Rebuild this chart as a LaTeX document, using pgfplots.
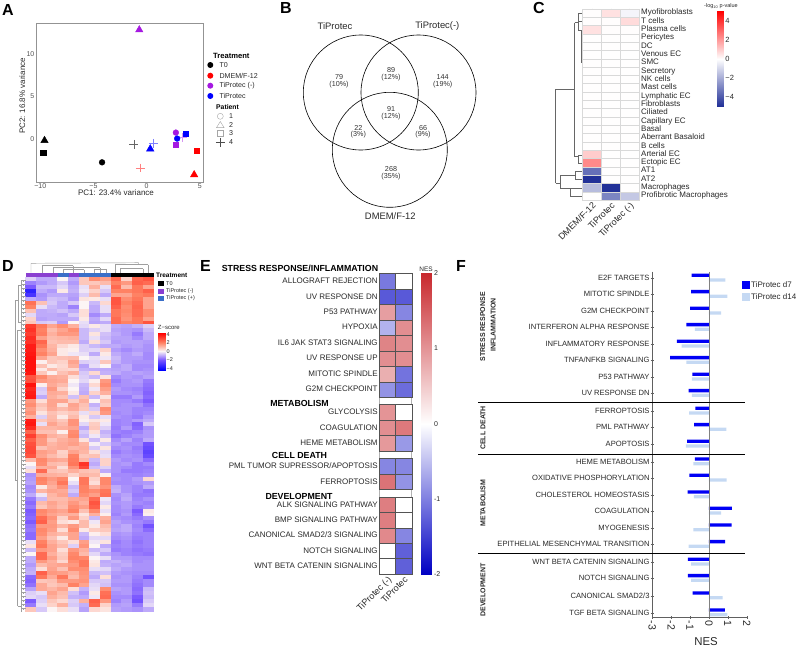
\documentclass[border=0pt]{standalone}
\usepackage{fontspec}
\setmainfont{Liberation Sans}
\usepackage{pgfplots}
\usepackage{pgfplotstable}
\pgfplotsset{compat=1.18}

\newcommand{\fs}[1]{\fontsize{#1}{#1}\selectfont}

\definecolor{pur}{RGB}{165,25,225}
\definecolor{annpur}{RGB}{138,63,209}
\definecolor{annblu}{RGB}{58,111,200}
\definecolor{dkblue}{RGB}{0,0,245}
\definecolor{ltblue}{RGB}{197,217,243}
\definecolor{txt}{RGB}{40,40,40}

\pgfplotsset{
  colormap={hmC}{rgb255(0pt)=(30,45,150); rgb255(5pt)=(255,255,255); rgb255(10pt)=(255,0,0)},
  colormap={hmE}{rgb255(0pt)=(0,0,195); rgb255(2pt)=(255,255,255); rgb255(4pt)=(200,40,45)},
  colormap={hmD}{rgb255(0pt)=(0,0,255); rgb255(24pt)=(125,90,255); rgb255(34pt)=(190,170,250);
    rgb255(44pt)=(252,245,245); rgb255(64pt)=(255,130,100); rgb255(87pt)=(255,0,0)},
  pan/.style={scale only axis, anchor=south west},
  cell/.style={only marks, scatter, scatter src=explicit, mark=square*,
    scatter/use mapped color={draw=#1, fill=mapped color}},
}

% D: heatmap, 85 rows, 12 samples
\pgfplotstableread[header=false]{
-0.5 -1 -1 0 -1 0.8 1.8 1.5 2.5 0.6 2.5 2.8
-1.5 -1.2 -1 -0.6 -1.2 0.8 0.8 1 2.0 1.6 2.6 2.4
-2 -0.8 -0.8 -0.4 -1 -0.3 1.2 -0.3 2.4 1.0 2.2 1.4
-3.5 -1 -1.2 0.2 -0.9 -0.2 0.6 -0.6 2 2 2.2 2.6
-3 -1.3 -1 -1 -1.1 -0.5 1 -1 1.4 1.4 2 2.2
-1 -1.2 -0.7 -0.8 -1.2 0.3 0.2 -0.3 2.8 1.8 2.2 1.4
2.3 0.9 -0.6 -1 -0.6 0 -0.8 0.5 2.8 2 2.4 1.4
2 -0.3 -0.8 -1 -1.5 0 -1 -0.3 2.6 1.8 2.5 1.4
0.9 -1 -0.9 -0.7 -1 0.4 -1 -0.3 2.2 1.9 2.4 1.8
-0.4 -1 -1 -1.1 -0.6 0.4 -1.4 -1 2.2 1.8 2.4 1.8
0.6 -1.1 -1 -1 -1 0.2 -1 -0.4 2.4 1.7 2.2 1.4
0.8 -0.6 -0.5 -1.2 0 -0.3 -1.1 -1 2.4 2 2.2 2.8
3.2 2.2 1.4 1.8 1.2 -0.4 0.2 -0.3 -1 -1.1 -0.9 -0.5
3.4 2 1 1.4 1.8 -0.8 -0.5 -0.3 -1.1 -1.2 -1.3 -0.8
3.2 2.1 1.2 1.6 1.6 -0.8 0.3 -0.7 -1 -1.2 -1.6 -1
3.5 1.5 1 1.1 1.2 -0.8 -0.3 -0.8 -1.1 -1.1 -1.4 -1
3.4 2.5 0.9 1 1 -1 0.4 -0.6 -1.2 -1.1 -1.1 -1.2
3.8 2.2 1.1 0.5 0.2 -0.5 -0.8 -1 -1 -1.2 -1.1 -1.3
3.8 1.8 1.2 0.2 0.1 -0.5 -0.4 0.6 -1.2 -1.4 -1.2 -1.3
3.9 2 1.4 0.2 -0.2 -0.3 -1 0.2 -1 -1.2 -1 -1.4
4 1.4 0.8 0.9 1 0 -0.3 -0.2 -0.8 -1.2 -1.2 -1.4
4 0.1 0.8 0.6 1.4 -0.5 -0.4 0.8 -0.9 -1.2 -1.3 -1.3
4 0.9 0.2 0.5 1.2 -1.1 -0.3 0 -1.2 -1 -1.4 -1.4
4 0.2 1 0.6 0.5 -0.9 -1 -1 -1.1 -1 -1.4 -1.3
3.9 0.8 0.1 0.9 1.2 -0.6 0.5 -0.9 -1 -1.2 -1.1 -1.2
2.8 1.9 1.3 1.2 0.4 -0.5 -0.8 0.3 -1.4 -1.2 -1.3 -1.1
2.9 1.6 1.4 1.3 0 -0.4 0.1 1.6 -1.6 -1.3 -1.2 -1.6
4 0.1 1.3 1 -0.2 -0.8 0.5 1.8 -1.4 -1.3 -1.3 -1.7
3.6 -0.6 1.6 0.6 0 -0.9 -0.2 1.5 -1.2 -1.4 -1.5 -1.8
3.8 -0.5 1.3 1.2 0.2 -1 0.6 1.2 -1.3 -1.3 -1.4 -1.9
3.9 -1 1.2 0.9 -0.7 0.9 -0.8 0.3 -1.6 -1.6 -1.2 -1.8
1.6 0.4 1.4 1.4 0.7 1.2 0 0.9 -1.4 -1.4 -1.6 -2
1.8 0.9 1.4 0.4 1.4 0.9 -0.9 0.7 -1.4 -1.3 -1.3 -1.7
1.5 0.7 1.3 1 1.3 0.8 -0.6 1.8 -1.3 -1.3 -1.5 -1.5
1.7 0.3 0.9 0.6 0.8 -0.3 0.5 1.6 -1.4 -1.3 -1.5 -1.4
1.2 -0.5 1 0.2 1 0.2 -0.6 -0.3 -1.3 -1.4 -1.6 -1.2
3.8 0.8 1.1 0.8 1.7 0.1 0.3 0.2 -1.5 -1.4 -1.2 -1
3.9 -0.3 1.4 1 1.7 -0.4 0.7 -0.2 -1.5 -1.4 -1.9 -0.6
3.5 1.1 1.1 1.2 1.4 -1 0.8 -0.5 -1.6 -1.2 -1.8 -1.3
2.5 0.9 0.9 0.1 1.8 -0.6 0.4 -0.9 -1.5 -1.6 -1.5 -1.2
3.2 1.8 1.2 1 1.9 -0.8 -0.2 -0.7 -1.7 -1.5 -1.3 -1.2
2.6 1.6 0.8 1.2 1.4 0.3 -0.8 0.2 -1.4 -1.1 -1.5 -1
2.9 1.6 1.1 1.3 1.5 1.1 -0.1 -0.6 -1.2 -1.4 -1.4 -2.2
3 0.9 1.2 1.3 1.1 1.2 -0.6 0.3 -1.4 -1.3 -1.6 -2.4
3 1.5 1.3 0.6 1.4 1.1 0.4 -0.4 -1.6 -1.4 -1.5 -2.6
2.8 1.4 1 0.7 2 0.8 0.9 -0.3 -1.4 -1.3 -1.4 -2.4
1 1.9 1.4 1.3 2.1 1.1 -0.8 0.6 -1.2 -1.4 -1.3 -1.8
0 1.8 1 0.9 2.2 3.4 -1 0.6 -1.3 -1.2 -1.6 -1.4
-0.3 1.2 1.3 0.4 1.7 3 -0.7 -0.5 -1.3 -1.4 -1.6 -1.6
0.4 2.4 0.9 0.8 1.2 0.9 0.8 -1 -1.3 -1.6 -1.6 -1.5
-1.3 1.3 1.2 1.1 0.6 1.1 1 0.1 -1.4 -1.4 -1.5 -1.4
-1.2 2 1.6 1.9 0 2.2 0.6 1.9 -1.3 -1.4 -1.2 0.5
-1.1 1.9 1.4 2.2 -0.3 2.2 0.4 1.9 -1.4 -1.4 -1.3 -1.2
-1.4 0.2 1.2 1.7 -0.8 2 1.2 1.7 -1 -1.3 -1.5 -1
-1.3 1.1 1.4 1.3 -0.6 2 1.8 2.2 -0.9 -1.3 -1.5 -1.7
-1 -0.2 1.1 1.4 -1 1.8 1.5 2.3 -1.3 -1.1 -1.6 -1.6
-1.6 -0.8 1 1 1.3 1.4 2.4 -0.2 -1.4 -1 -1.5 -1.3
-1.8 1 1.4 1.1 1.6 1.2 2.8 -0.4 -1.3 -1.2 -1.4 -1.5
-1.6 0.8 1.3 1 1.8 1.5 2.6 0.2 -1.4 -1.2 -1.6 -1.4
-2 1.9 1.6 1.4 2 0.9 1.9 -0.3 -1.4 -1.3 -2 0.2
-1.9 1.8 1.4 1.2 1.2 0.3 1.2 0.1 -1.5 -1.2 -1.8 0.1
-1.8 2.4 1.7 0.6 1.6 0.6 -0.8 1.2 -1.3 -1.4 -1.6 -1.3
-2 2.6 1.5 0.4 0.2 1 -0.2 1.4 -1.1 -1.3 -1.4 -1.6
-1.7 1.6 1.6 1.1 1.6 1 0.2 1 -1.2 -1 -1.5 -2.2
-1.6 1.9 1.5 0.4 1.8 0.2 0.7 0.8 -1.1 -1 -1.4 -1.8
-1.8 1.8 1.2 1 1.4 -0.8 0.1 0.4 -1.3 -1.2 -1.5 -1.5
-1.8 1.5 0.9 0.2 1.4 -1 -0.4 -0.4 -1.4 -1.3 -1.6 -1.5
-0.3 2 1.2 0.8 0.4 1.5 -0.2 0.3 -1.6 -1.4 -1.7 -1.5
0.3 2.2 1.4 1 -0.5 1.7 0 -1 -1.5 -1.4 -1.6 -1.5
-0.8 1.6 1.4 0.4 1.6 1.2 -0.8 -0.6 -1.6 -1.5 -1.7 -1.6
0 2.4 1.2 0.7 1.9 1 -0.4 -1 -1.3 -1.5 -1.6 -1.7
-1 2.4 1.5 0.8 2 1.9 0 -0.3 -1.2 -1.2 -1.4 -1.4
-1 1.6 1.2 0.5 1.8 2.2 0.2 -1 -0.9 -1.1 -1.4 -1.3
-1.2 1 1.3 1.4 1.6 2.2 0.3 -0.9 -1.1 -1 -1.3 -1.3
-1 0.4 1.4 0.9 1.8 1.8 -0.3 -0.4 -1 -1.2 -1.3 -1.3
-0.9 2.6 1.6 1.5 1.2 1.7 -0.8 -0.7 -1.2 -1.3 -1.4 -1.4
-1.8 2.2 1.3 2.2 1 1.6 -1 0.4 -1.3 -1.2 -1.5 -2.2
-1.9 0.8 0.9 1.6 1.6 1.7 -0.6 -0.6 -1.2 -1.2 -1.6 -1.4
-1.7 1.3 0.8 1 2 1.4 -0.4 -0.7 -1.3 -1.3 -1.7 -1.4
-1.1 1.3 1.1 1.4 0.4 -0.9 -0.3 1.8 -1.1 -1.2 -1.8 -0.8
-0.5 -0.3 1.4 1 -0.7 -1.2 0.2 2.3 -1.3 -1.2 -1.7 -0.7
-0.4 -0.6 1.2 0.9 -0.9 -1 -0.2 2.4 -1.4 -1.4 -2 -0.8
-2 -0.5 0.8 0.5 -0.5 1.2 2.6 1.6 -1.5 -1.2 -2.2 -0.6
-1.6 -0.3 0.6 1.2 -0.6 -0.9 2.4 0.6 -1.2 -1.1 -1.6 -0.4
0.8 -0.6 0 0.4 -0.3 -1.1 0.5 0.3 -1.1 -1.2 -1.3 -1
}\datD

% C: DMEM/F-12, TiProtec, TiProtec (-)
\pgfplotstableread[header=false]{
0.05 0.6 -0.25
0.05 0.05 0.7
0.6 0.05 0.05
0.03 0.03 0.03
0.03 0.03 0.03
0.03 0.03 0.03
0.03 0.03 0.03
0.03 0.03 0.03
0.03 0.03 0.03
0.03 0.03 0.03
0.03 0.03 0.03
0.03 0.03 0.03
0.03 0.03 0.03
0.03 0.03 0.03
0.03 0.03 0.03
0.03 0.03 0.03
0.03 0.03 0.03
1.0 0.03 0.03
2.3 0.03 0.03
-3.4 0.03 0.03
-4.9 0.03 0.03
-1.6 -4.9 0.03
0.03 -2.9 -1.3
}\datC

% E: row centre, TiProtec (-), TiProtec
\pgfplotstableread{
y a b
281 -1.05 0
296.6 -1.3 -1.3
312 0.9 -0.95
327.5 -0.6 1.05
343 1.15 1.05
358.5 1.05 1.05
374 0.75 -1.1
389.4 -0.85 -1.15
412.3 1.0 0
427.7 1.05 1.25
443 0.95 -0.8
466 -0.95 -0.95
481.7 1.3 -0.85
504.7 1.2 0
520 1.2 0
535.4 1.1 -0.95
550.7 0 -1.25
566 0 -1.25
}\datE

% F: row centre, NES d7, NES d14
\pgfplotstableread{
y d7 d14
278 -0.92 0.87
294.3 -0.95 0.98
311 -1.0 0.65
327.3 -1.2 -0.74
344 -1.7 -1.45
360.3 -2.06 -1.2
377 -0.88 -0.9
393.3 -1.08 -0.9
411 -0.72 -1.05
427.3 -0.78 0.92
444 -1.15 -1.22
461.7 -0.74 -0.82
478 -1.04 0.93
494.7 -1.13 -0.8
511 1.22 0.65
527.7 1.2 -0.83
544.3 0.86 -1.07
562 -1.12 -0.95
578.3 -1.12 -0.95
595.7 -0.87 0.72
612.7 0.85 0.97
}\datF

\begin{document}
\begin{tikzpicture}[x=1pt,y=-1pt,font=\fs{8},text=txt]
\path[use as bounding box] (0,0) rectangle (798,648);

% panel letters
\foreach \l/\x/\y in {A/2/10,B/280/8,C/533/8,D/2/266,E/200/266,F/456/266}
  \node[anchor=west,inner sep=0pt,text=black,font=\fs{16}\bfseries] at (\x,\y) {\l};

% ---------- A
\begin{axis}[pan, at={(36pt,-182pt)}, width=167pt, height=159pt,
  xmin=-10.4, xmax=5.3, ymin=-5, ymax=13.6,
  axis line style={gray!85,line width=1pt}, tick style={draw=none},
  xtick={-10,-5,0,5}, xticklabels={−10,−5,0,5},
  ytick={0,5,10},
  every tick label/.append style={font=\fs{7},text=txt!80,inner sep=1.5pt},
  /pgf/number format/assume math mode=true]
  \addplot[only marks,mark=*,mark size=2.9pt,black] coordinates {(-4.19,-2.7)};
  \addplot[only marks,mark=triangle*,mark size=4.3pt,black] coordinates {(-9.6,-0.15)};
  \addplot[only marks,mark=square*,mark size=2.8pt,black] coordinates {(-9.7,-1.56)};
  \addplot[only marks,mark=+,mark size=4.4pt,black!60,line width=.45pt] coordinates {(-1.2,-0.6)};
  \addplot[only marks,mark=triangle*,mark size=4.3pt,red] coordinates {(4.47,-4.15)};
  \addplot[only marks,mark=square*,mark size=2.8pt,red] coordinates {(4.72,-1.33)};
  \addplot[only marks,mark=+,mark size=4.4pt,red!50,line width=.45pt] coordinates {(-0.6,-3.36)};
  \addplot[only marks,mark=triangle*,mark size=4.3pt,pur] coordinates {(-0.69,12.8)};
  \addplot[only marks,mark=*,mark size=2.9pt,pur] coordinates {(2.75,0.78)};
  \addplot[only marks,mark=square*,mark size=2.8pt,pur] coordinates {(2.72,-0.63)};
  \addplot[only marks,mark=+,mark size=4.4pt,pur!45,line width=.45pt] coordinates {(3.34,0.23)};
  \addplot[only marks,mark=*,mark size=2.9pt,blue] coordinates {(2.87,0.08)};
  \addplot[only marks,mark=square*,mark size=2.8pt,blue] coordinates {(3.69,0.67)};
  \addplot[only marks,mark=triangle*,mark size=4.3pt,blue] coordinates {(0.34,-1.13)};
  \addplot[only marks,mark=+,mark size=4.4pt,blue!50,line width=.45pt] coordinates {(0.62,-0.47)};
\end{axis}
\node[rotate=90,font=\fs{8}] at (22.3,96) {PC2: 16.8\% variance};
\node[font=\fs{8}] at (116,193) {PC1: 23.4\% variance};
\node[anchor=west,inner sep=0pt,font=\fs{7.6}\bfseries,text=black] at (213,56) {Treatment};
\foreach \c/\t/\y in {black/T0/65,red/DMEM\slash F-12/75.7,pur/TiProtec (-)/85.7,blue/TiProtec/96}{
  \fill[\c] (210.3,\y) circle (3pt);
  \node[anchor=west,inner sep=0pt,font=\fs{7.1}] at (219.3,\y) {\t};
}
\node[anchor=west,inner sep=0pt,font=\fs{6.8}\bfseries,text=black] at (216,107) {Patient};
\draw[gray!70,line width=.4pt] (220.3,116.3) circle (3pt);
\draw[gray!70,line width=.4pt] (216.5,127.6) -- (224.1,127.6) -- (220.3,121.5) -- cycle;
\draw[gray!70,line width=.4pt] (217.4,130.4) rectangle (223.2,136.2);
\draw[black!70,line width=.4pt] (215.8,142.3) -- (224.8,142.3) (220.3,137.8) -- (220.3,146.8);
\foreach \t/\y in {1/116.3,2/125,3/133.3,4/142.3}
  \node[anchor=west,inner sep=0pt,font=\fs{7.1}] at (229,\y) {\t};

% ---------- B
\draw[black,line width=.6pt] (360.8,92.5) circle (57.5) (418.5,92.5) circle (57.5) (389.8,149.8) circle (57.5);
\node[font=\fs{9.4}] at (335,26) {TiProtec};
\node[font=\fs{9.4}] at (437.3,26) {TiProtec(-)};
\node[font=\fs{9.4}] at (390.3,216) {DMEM/F-12};
\foreach \a/\b/\x/\y in {79/10/339/81,89/12/391/74.3,144/19/442.7/81,91/12/391/113.3,22/3/358.3/131.7,66/9/423/131.7,268/35/391/173.3}
  \node[align=center,inner sep=0pt,font=\fs{7.2},text=black!80] at (\x,\y) {\a\\[-.6pt](\b\%)};

% ---------- C
\begin{axis}[pan, at={(582.3pt,-200pt)}, width=56.7pt, height=191.3pt,
  xmin=-.5, xmax=2.5, ymin=-.5, ymax=22.5, y dir=reverse, clip=false,
  colormap name=hmC, point meta min=-5, point meta max=5,
  axis line style={gray!40},
  xtick={0,1,2}, xticklabels={DMEM/F-12,TiProtec,TiProtec (-)},
  x tick label style={rotate=45,anchor=north east,font=\fs{9},inner sep=1pt},
  x tick style={gray}, major tick length=2.5pt,
  ytick={0,...,22}, y tick style={draw=none}, yticklabel pos=right,
  yticklabels={Myofibroblasts,T cells,Plasma cells,Pericytes,DC,Venous EC,SMC,Secretory,NK cells,Mast cells,Lymphatic EC,Fibroblasts,Ciliated,Capillary EC,Basal,Aberrant Basaloid,B cells,Arterial EC,Ectopic EC,AT1,AT2,Macrophages,Profibrotic Macrophages},
  y tick label style={font=\fs{8},anchor=west,inner sep=1pt,xshift=1pt,text height=5.8pt,text depth=1.6pt}]
  \pgfplotsinvokeforeach{0,1,2}{
    \addplot[cell=gray!30, mark size=4.16pt, mark options={xscale=2.27,line width=.2pt}]
      table[x expr=#1, y expr=\coordindex, meta index=#1] {\datC};
  }
\end{axis}
\begin{scope}[gray!80!black,line width=.5pt]
\draw (555.7,89.3) -- (574.7,89.3) (555.7,89.3) -- (555.7,183.3);
\draw (574.7,22.7) -- (574.7,156.7);
\draw (574.7,22.7) -- (578.3,22.7) (578.3,13.3) -- (578.3,30);
\draw (578.3,13.3) -- (582.3,13.3) (578.3,21.7) -- (582.3,21.7) (578.3,30) -- (582.3,30);
\draw (581,30) -- (581,63);
\draw (574.7,156.7) -- (578.3,156.7) (578.3,155) -- (578.3,163) (578.3,155) -- (582.3,155) (578.3,163) -- (582.3,163);
\draw (555.7,183.3) -- (560,183.3) (560,175) -- (560,188.3);
\draw (560,175) -- (575,175) (575,171) -- (575,179.5) (575,171) -- (582.3,171) (575,179.5) -- (582.3,179.5);
\draw (560,188.3) -- (570,188.3) (570,188.3) -- (570,196) (570,188) -- (582.3,188) (570,196) -- (582.3,196);
\end{scope}
% C colour bar
\begin{axis}[pan, at={(717.3pt,-106.7pt)}, width=6.4pt, height=95.7pt,
  xmin=0, xmax=1, ymin=-5, ymax=5, colormap name=hmC, point meta min=-5, point meta max=5,
  view={0}{90}, axis line style={draw=none}, xtick=\empty, ytick={-4,-2,0,2,4},
  yticklabels={−4,−2,0,2,4}, yticklabel pos=right, y tick style={draw=none},
  y tick label style={font=\fs{7.5},inner sep=1.5pt}]
  \addplot[surf,shader=interp,point meta=y,mesh/rows=3] coordinates {(0,-5)(1,-5) (0,0)(1,0) (0,5)(1,5)};
\end{axis}
\node[font=\fs{5.5}] at (721,6) {-log\textsubscript{10} p-value};

% ---------- D
\begin{axis}[pan, at={(25.7pt,-611pt)}, width=128.3pt, height=333pt, hide axis,
  xmin=-.5, xmax=11.5, ymin=-.5, ymax=84.5, y dir=reverse,
  colormap name=hmD, point meta min=-4.4, point meta max=4.3]
  \pgfplotsinvokeforeach{0,...,11}{
    \addplot[cell=mapped color, mark size=2pt, mark options={xscale=2.67,line width=0pt}]
      table[x expr=#1, y expr=\coordindex, meta index=#1] {\datD};
  }
\end{axis}
\fill[annpur] (25.7,272.7) rectangle (57.8,277.4);
\fill[annblu] (57.8,272.7) rectangle (68.5,277.4);
\fill[annpur] (68.5,272.7) rectangle (79.2,277.4);
\fill[annblu] (79.2,272.7) rectangle (111.2,277.4);
\fill[black] (111.2,272.7) rectangle (154,277.4);
\begin{scope}[gray!75,line width=.45pt]
% column tree
\draw (31,272.7) -- (31,263.3) -- (138.3,262.7) -- (138.3,264.7);
\draw (115,264.7) -- (148,264.7) (115,264.7) -- (115,272.7) (148,264.7) -- (148,272.7);
\draw (120,268.5) -- (143,268.5) (120,268.5) -- (120,272.7) (143,268.5) -- (143,272.7);
\draw (42,265.5) -- (73,265.5) (42,265.5) -- (42,272.7) (73,265.5) -- (73,272.7);
\draw (53,267.5) -- (100,267.5) (53,267.5) -- (53,272.7) (100,267.5) -- (100,272.7);
\draw (63,269.5) -- (84,269.5) (63,269.5) -- (63,272.7) (84,269.5) -- (84,272.7);
\draw (94,269) -- (106,269) (94,269) -- (94,272.7) (106,269) -- (106,272.7);
% row tree
\draw (15,300) -- (15,480) (15,300) -- (18,300) (15,480) -- (17.5,480);
\draw (18,285) -- (18,322) (17.5,330) -- (17.5,606);
\draw (18,285) -- (21,285) (18,322) -- (21,322) (17.5,330) -- (21,330) (17.5,606) -- (21,606);
\foreach \y in {280,284,...,608}{
  \draw (21,\y) -- (25.5,\y) (23,\y) -- (23,\y+2.2);
  \draw (21,\y) -- (21,\y+4);
}
\end{scope}
\node[anchor=west,inner sep=0pt,font=\fs{6.5}\bfseries,text=black] at (156,275) {Treatment};
\fill[black] (158,280.7) rectangle (164,285.7);
\fill[annpur] (158,288.7) rectangle (164,293.7);
\fill[annblu] (158,296) rectangle (164,301);
\foreach \t/\y in {T0/283.2,TiProtec (-)/291.2,TiProtec (+)/298.5}
  \node[anchor=west,inner sep=0pt,font=\fs{5.5}] at (166,\y) {\t};
\node[anchor=west,inner sep=0pt,font=\fs{6}] at (157.7,327.7) {Z−score};
\begin{axis}[pan, at={(157.7pt,-370pt)}, width=7.3pt, height=36.7pt,
  xmin=0, xmax=1, ymin=-4.4, ymax=4.3, colormap name=hmD, point meta min=-4.4, point meta max=4.3,
  view={0}{90}, axis line style={draw=none}, xtick=\empty, ytick={-4,-2,0,2,4},
  yticklabels={−4,−2,0,2,4}, yticklabel pos=right, y tick style={draw=none},
  y tick label style={font=\fs{5.5},inner sep=1.5pt}]
  \addplot[surf,shader=interp,point meta=y,mesh/rows=3] coordinates {(0,-4.4)(1,-4.4) (0,0)(1,0) (0,4.3)(1,4.3)};
\end{axis}

% ---------- E
\begin{axis}[pan, at={(379.3pt,-574pt)}, width=32.4pt, height=300.7pt,
  xmin=-.5, xmax=1.5, ymin=273.3, ymax=574, y dir=reverse, clip=false,
  colormap name=hmE, point meta min=-2, point meta max=2,
  axis line style={gray!60,line width=.6pt},
  xtick={0,1}, xticklabels={TiProtec (-),TiProtec},
  x tick label style={rotate=45,anchor=north east,font=\fs{9},inner sep=1pt},
  tick style={gray}, major tick length=2.5pt, xtick pos=bottom, ytick pos=left,
  ytick={281,296.6,312,327.5,343,358.5,374,389.4,412.3,427.7,443,466,481.7,504.7,520,535.4,550.7,566},
  yticklabels={ALLOGRAFT REJECTION,UV RESPONSE DN,P53 PATHWAY,HYPOXIA,IL6 JAK STAT3 SIGNALING,UV RESPONSE UP,MITOTIC SPINDLE,G2M CHECKPOINT,GLYCOLYSIS,COAGULATION,HEME METABOLISM,PML TUMOR SUPRESSOR/APOPTOSIS,FERROPTOSIS,ALK SIGNALING PATHWAY,BMP SIGNALING PATHWAY,CANONICAL SMAD2/3 SIGNALING,NOTCH SIGNALING,WNT BETA CATENIN SIGNALING},
  y tick label style={font=\fs{8},inner sep=1pt,xshift=-.5pt,text height=5.8pt,text depth=1pt}]
  \addplot[cell=gray!65!black, mark size=7.7pt, mark options={xscale=1.05,line width=.25pt}]
    table[x expr=0, y=y, meta=a] {\datE};
  \addplot[cell=gray!65!black, mark size=7.7pt, mark options={xscale=1.05,line width=.25pt}]
    table[x expr=1, y=y, meta=b] {\datE};
\end{axis}
\node[anchor=east,inner sep=0pt,font=\fs{8.8}\bfseries,text=black] at (378.3,268.3) {STRESS RESPONSE/INFLAMMATION};
\node[anchor=center,inner sep=0pt,font=\fs{8.8}\bfseries,text=black] at (299.5,403.3) {METABOLISM};
\node[anchor=center,inner sep=0pt,font=\fs{8.8}\bfseries,text=black] at (299.5,455.7) {CELL DEATH};
\node[anchor=center,inner sep=0pt,font=\fs{8.8}\bfseries,text=black] at (299,496.7) {DEVELOPMENT};
\begin{axis}[pan, at={(421.3pt,-574pt)}, width=10pt, height=300.7pt,
  xmin=0, xmax=1, ymin=-2, ymax=2, colormap name=hmE, point meta min=-2, point meta max=2,
  view={0}{90}, axis line style={draw=none}, xtick=\empty, ytick={-2,-1,0,1,2},
  yticklabels={-2,-1,0,1,2}, yticklabel pos=right, y tick style={gray}, major tick length=2pt,
  y tick label style={font=\fs{7},inner sep=1.5pt,xshift=1pt}]
  \addplot[surf,shader=interp,point meta=y,mesh/rows=3] coordinates {(0,-2)(1,-2) (0,0)(1,0) (0,2)(1,2)};
\end{axis}
\node[font=\fs{6.5}] at (426,269) {NES};

% ---------- F
\begin{axis}[pan, at={(652.3pt,-617.3pt)}, width=94.4pt, height=345.6pt,
  xmin=-3, xmax=2, ymin=271.7, ymax=617.3, y dir=reverse,
  axis x line=bottom, axis y line=left, axis line style={-,gray!75!black,line width=.7pt},
  tick style={gray!75!black}, major tick length=3.2pt,
  xtick={-3,-2,-1,0,1,2}, xticklabels={-3,-2,-1,0,1,2},
  x tick label style={rotate=-90,anchor=west,font=\fs{10.5},inner sep=1.5pt},
  ytick={278,294.3,311,327.3,344,360.3,377,393.3,411,427.3,444,461.7,478,494.7,511,527.7,544.3,562,578.3,595.7,612.7},
  yticklabels={E2F TARGETS,MITOTIC SPINDLE,G2M CHECKPOINT,INTERFERON ALPHA RESPONSE,INFLAMMATORY RESPONSE,TNFA/NFKB SIGNALING,P53 PATHWAY,UV RESPONSE DN,FERROPTOSIS,PML PATHWAY,APOPTOSIS,HEME METABOLISM,OXIDATIVE PHOSPHORYLATION,CHOLESTEROL HOMEOSTASIS,COAGULATION,MYOGENESIS,EPITHELIAL MESENCHYMAL TRANSITION,WNT BETA CATENIN SIGNALING,NOTCH SIGNALING,CANONICAL SMAD2/3,TGF BETA SIGNALING},
  y tick label style={font=\fs{7.6},inner sep=1pt,text height=5.6pt,text depth=1pt}]
  \addplot[xbar,bar width=3.3pt,bar shift=0pt,draw=none,fill=ltblue]
    table[x=d14, y expr=\thisrow{y}+2] {\datF};
  \addplot[xbar,bar width=3.3pt,bar shift=0pt,draw=none,fill=dkblue]
    table[x=d7, y expr=\thisrow{y}-2.7] {\datF};
  \draw[gray,line width=.7pt] (axis cs:0,271.7) -- (axis cs:0,617.3);
\end{axis}
\node[font=\fs{11.4}] at (706,642) {NES};
\foreach \y in {402.7,454,553.3}
  \draw[black,line width=.75pt] (478,\y) -- (745,\y);
\node[rotate=90,font=\fs{7}\bfseries] at (482.7,326.7) {STRESS RESPONSE};
\node[rotate=90,font=\fs{7}\bfseries] at (493.3,325) {INFLAMMATION};
\node[rotate=90,font=\fs{7}\bfseries] at (483,428) {CELL DEATH};
\node[rotate=90,font=\fs{7}\bfseries] at (483,503) {METABOLISM};
\node[rotate=90,font=\fs{7}\bfseries] at (483,590) {DEVELOPMENT};
\fill[dkblue] (742.3,280.7) rectangle (750,289.3);
\fill[ltblue] (742.3,293.3) rectangle (750,301.3);
\node[anchor=west,inner sep=0pt,font=\fs{8}] at (751,285) {TiProtec d7};
\node[anchor=west,inner sep=0pt,font=\fs{8}] at (751,297) {TiProtec d14};
\end{tikzpicture}
\end{document}
